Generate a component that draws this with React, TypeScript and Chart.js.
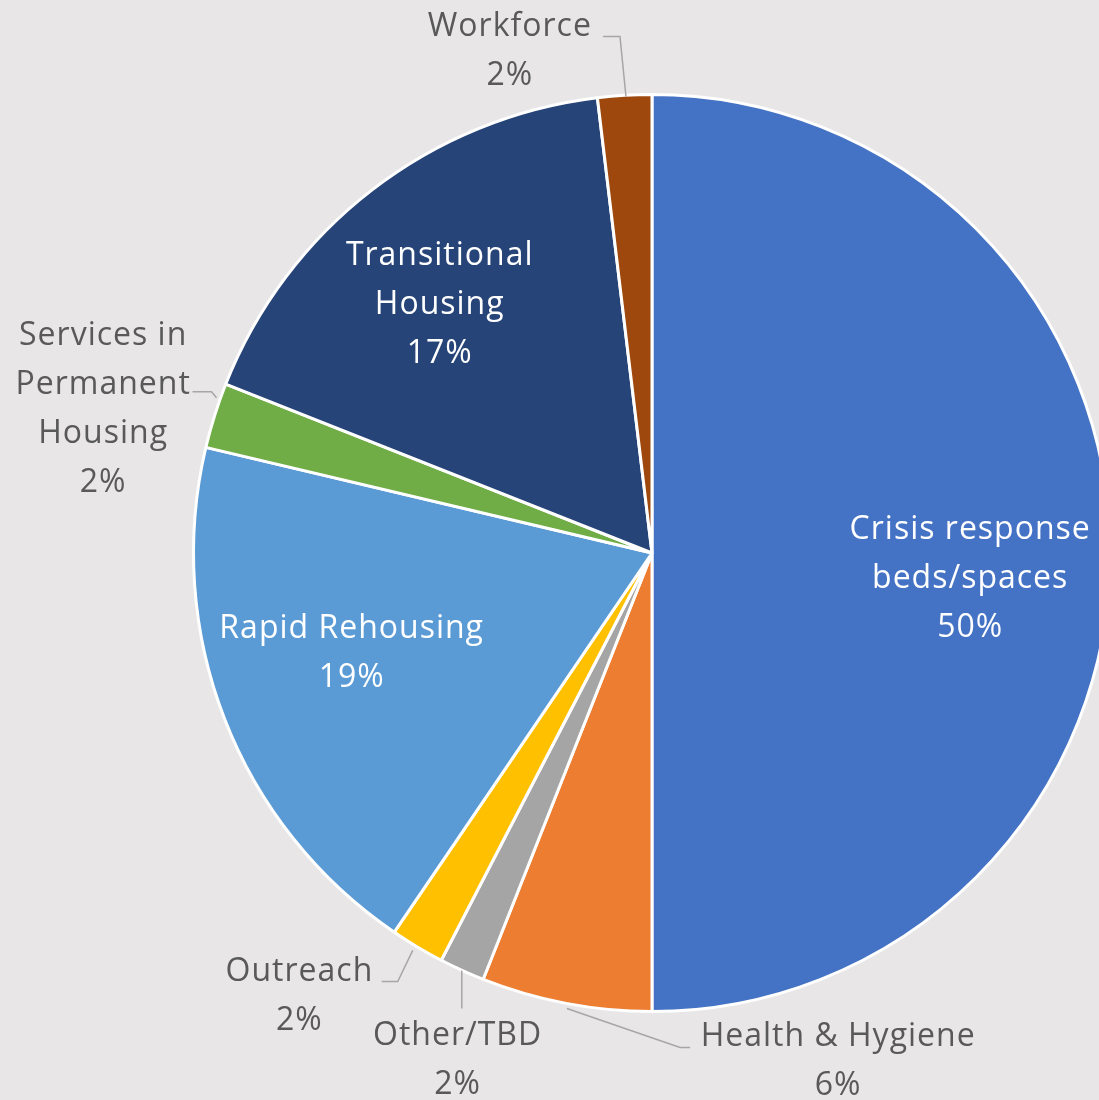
import React, { useEffect, useRef } from "react";
import { Chart, registerables } from "chart.js";

Chart.register(...registerables);

const categories = [
  "Crisis response beds/spaces",
  "Health & Hygiene",
  "Other/TBD",
  "Outreach",
  "Rapid Rehousing",
  "Services in Permanent Housing",
  "Transitional Housing",
  "Workforce",
];
const values = [50, 6, 1.6, 1.9, 19.2, 2.3, 17.1, 1.9];
const percentLabels = ["50%", "6%", "2%", "2%", "19%", "2%", "17%", "2%"];
const labelLines = [
  ["Crisis response", "beds/spaces"],
  ["Health & Hygiene"],
  ["Other/TBD"],
  ["Outreach"],
  ["Rapid Rehousing"],
  ["Services in", "Permanent", "Housing"],
  ["Transitional", "Housing"],
  ["Workforce"],
];
const colors = ["#4472C4", "#ED7D31", "#A5A5A5", "#FFC000", "#5B9BD5", "#70AD47", "#264478", "#9E480E"];

// label layout: center of text block relative to pie center, in radius units
const labelPos: [number, number][] = [
  [0.694, 0.05],
  [0.406, 1.103],
  [-0.424, 1.1],
  [-0.769, 0.96],
  [-0.655, 0.212],
  [-1.197, -0.319],
  [-0.463, -0.548],
  [-0.31, -1.1015],
];
const labelInside = [true, false, false, false, true, false, true, false];
const leaders: [number, number][][] = [
  [],
  [[38, 494], [28, 494], [-85, 455]],
  [[-190, 455], [-190, 417]],
  [[-270, 428], [-254, 428], [-239, 397]],
  [],
  [[-459, -161], [-440, -161], [-435, -155]],
  [],
  [[-49, -516], [-32, -516], [-26, -456]],
];

const FONT = "'Open Sans', Lato, sans-serif";

const labelPlugin = {
  id: "pieLabels",
  afterDatasetsDraw(chart: any) {
    const ctx = chart.ctx;
    const meta = chart.getDatasetMeta(0);
    const arc0 = meta.data[0] as any;
    const cx = arc0.x;
    const cy = arc0.y;
    const r = arc0.outerRadius;
    const s = r / 458;
    ctx.save();
    ctx.strokeStyle = "#A6A6A6";
    ctx.lineWidth = 1.5;
    leaders.forEach((pts) => {
      if (!pts.length) return;
      ctx.beginPath();
      pts.forEach(([px, py], i) => {
        const x = cx + px * s;
        const y = cy + py * s;
        if (i === 0) ctx.moveTo(x, y);
        else ctx.lineTo(x, y);
      });
      ctx.stroke();
    });
    ctx.font = `32px ${FONT}`;
    try {
      (ctx as any).letterSpacing = "1px";
    } catch (e) {}
    ctx.textAlign = "center";
    ctx.textBaseline = "middle";
    const lh = 49 * s;
    categories.forEach((_, i) => {
      const lines = [...labelLines[i], percentLabels[i]];
      const x = cx + labelPos[i][0] * r;
      const yc = cy + labelPos[i][1] * r + 3;
      const y0 = yc - ((lines.length - 1) * lh) / 2;
      ctx.fillStyle = labelInside[i] ? "#FFFFFF" : "#595959";
      lines.forEach((t, j) => ctx.fillText(t, x, y0 + j * lh));
    });
    ctx.restore();
  },
};

export default function App() {
  const ref = useRef<HTMLCanvasElement>(null);
  useEffect(() => {
    document.body.style.margin = "0";
    document.body.style.overflow = "hidden";
    const chart = new Chart(ref.current!, {
      type: "pie",
      data: {
        labels: categories,
        datasets: [
          {
            data: values,
            backgroundColor: colors,
            borderColor: "#FFFFFF",
            borderWidth: 3,
          },
        ],
      },
      options: {
        animation: false,
        responsive: false,
        devicePixelRatio: 1,
        layout: { padding: { left: 192, right: 88, top: 93, bottom: 87 } },
        plugins: { legend: { display: false }, tooltip: { enabled: false } },
      },
      plugins: [labelPlugin],
    });
    return () => chart.destroy();
  }, []);
  return (
    <div style={{ position: "fixed", left: 0, top: 0, width: 1099, height: 1100, overflow: "hidden", background: "#E8E6E6" }}>
      <canvas ref={ref} width={1200} height={1100} style={{ width: 1200, height: 1100, display: "block" }} />
    </div>
  );
}
